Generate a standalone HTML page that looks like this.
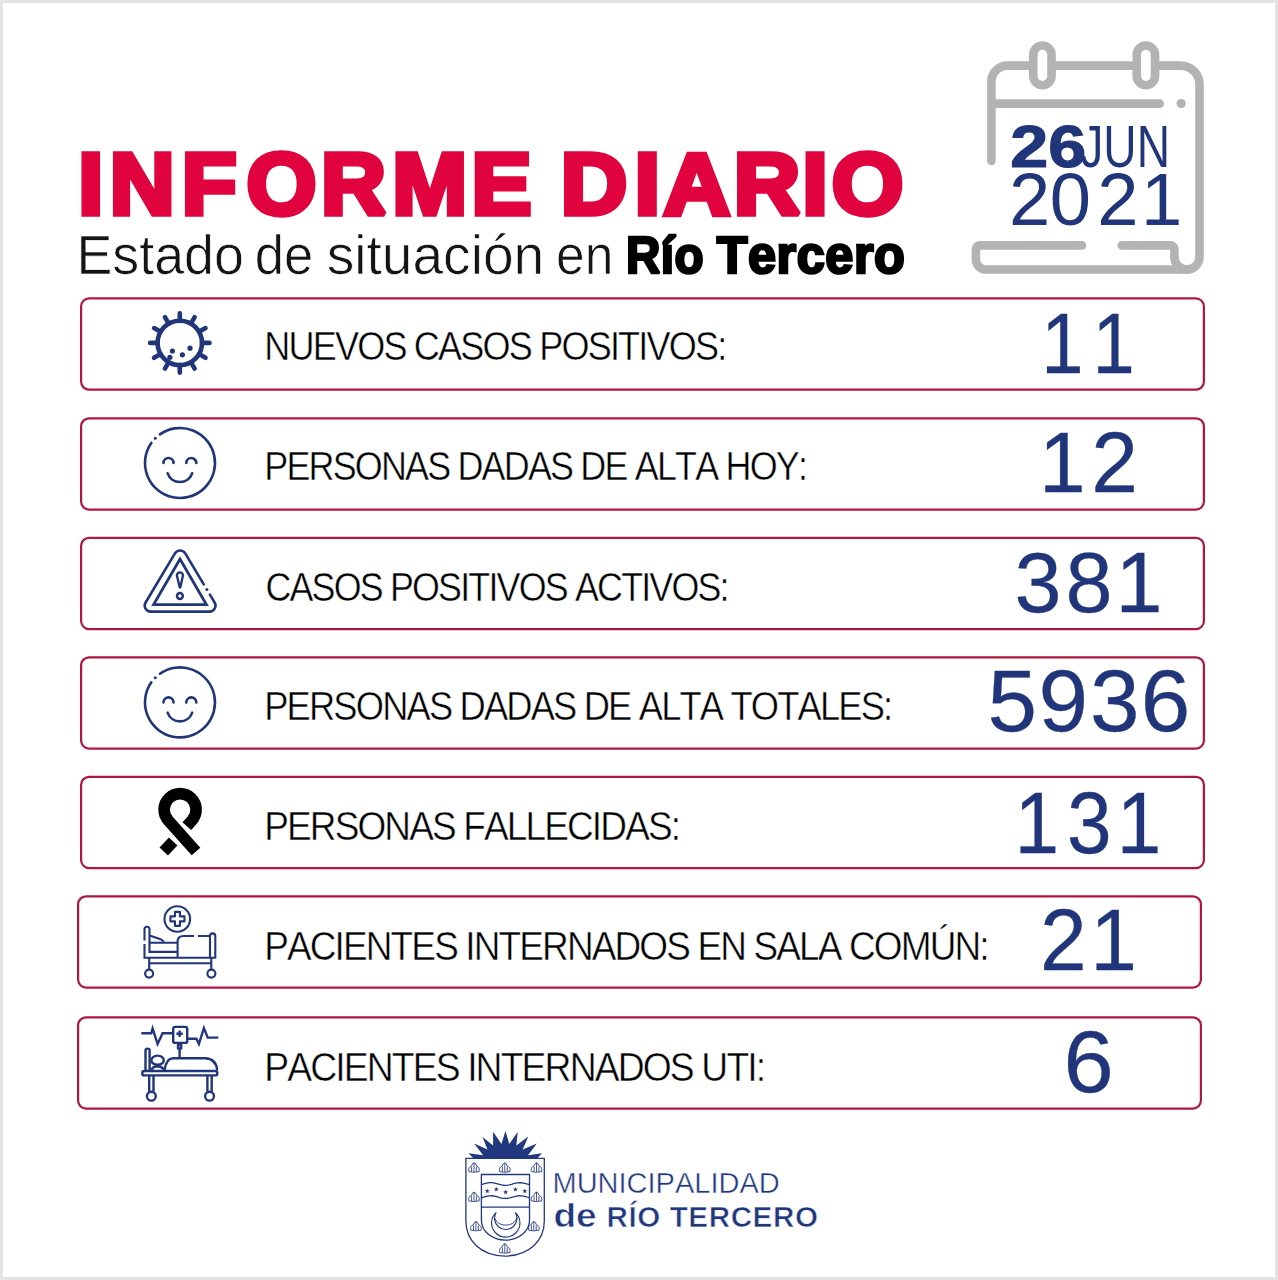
<!DOCTYPE html>
<html><head><meta charset="utf-8"><title>Informe diario</title>
<style>
html,body{margin:0;padding:0;background:#e4e4e4;}
body{width:1278px;height:1280px;overflow:hidden;}
svg{display:block;}
text{font-family:"Liberation Sans",sans-serif;font-kerning:none;font-variant-ligatures:none;}
</style></head><body>
<svg width="1278" height="1280" viewBox="0 0 1278 1280">
<rect x="0" y="0" width="1278" height="1280" fill="#e4e4e4"/>
<rect x="3" y="3" width="1272" height="1274" fill="#fff"/>
<text transform="translate(0 213.85) scale(1.0277 1)" x="76.20 106.70 176.97 239.83 312.44 381.62 458.70" y="0" font-size="87.50" fill="#e0033d" font-weight="bold" stroke="#e0033d" stroke-width="5.50" stroke-linejoin="miter" stroke-miterlimit="2">INFORME</text>
<text transform="translate(0 213.85) scale(1.0519 1)" x="533.07 603.27 630.81 697.45 762.56 790.78" y="0" font-size="87.50" fill="#e0033d" font-weight="bold" stroke="#e0033d" stroke-width="5.50" stroke-linejoin="miter" stroke-miterlimit="2">DIARIO</text>
<text stroke="#fff" stroke-width="0.7" transform="translate(76.49 274.00) scale(0.9688 1)" font-size="55.52" fill="#141414">Estado</text>
<text stroke="#fff" stroke-width="0.7" transform="translate(254.79 274.00) scale(0.9480 1)" font-size="55.52" fill="#141414">de</text>
<text stroke="#fff" stroke-width="0.7" transform="translate(326.67 274.00) scale(0.9930 1)" font-size="55.52" fill="#141414">situación</text>
<text stroke="#fff" stroke-width="0.7" transform="translate(556.11 274.00) scale(0.9266 1)" font-size="55.52" fill="#141414">en</text>
<text transform="translate(625.91 272.50) scale(0.9214 1)" font-size="51.75" fill="#000" font-weight="bold" letter-spacing="0.517" stroke="#000" stroke-width="2.60" stroke-linejoin="miter" stroke-miterlimit="2">Río</text>
<text transform="translate(716.70 272.50) scale(0.9755 1)" font-size="51.75" fill="#000" font-weight="bold" letter-spacing="0.517" stroke="#000" stroke-width="2.60" stroke-linejoin="miter" stroke-miterlimit="2">Tercero</text>
<g fill="none" stroke="#b3b3b3" stroke-width="8.6" stroke-linecap="round" stroke-linejoin="round"><path d="M991.4 161 V81.6 A16 16 0 0 1 1007.4 65.6 H1180.5 A19 19 0 0 1 1199.5 84.6 V257 A12.55 12.55 0 0 1 1186.95 269.55 H985.9 A10 10 0 0 1 975.9 259.55 V249.4 A4 4 0 0 1 979.9 245.4 H1082"/><path d="M1121.8 245.4 H1170.4 A4 4 0 0 1 1174.4 249.4 V257 A12.55 12.55 0 0 0 1186.95 269.55"/><path d="M995 103.6 H1159.7"/></g>
<circle cx="1181.2" cy="103.5" r="4.6" fill="#b3b3b3"/>
<rect x="1033.25" y="45.55" width="18.3" height="39.7" rx="9.15" fill="#fff" stroke="#b3b3b3" stroke-width="8.6"/>
<rect x="1136.75" y="45.55" width="18.3" height="39.7" rx="9.15" fill="#fff" stroke="#b3b3b3" stroke-width="8.6"/>
<text transform="translate(1010.33 166.50) scale(1.1654 1)" font-size="58.58" fill="#21367a" font-weight="bold" stroke="#21367a" stroke-width="1.20" stroke-linejoin="miter" stroke-miterlimit="2">26</text>
<text transform="translate(1080.28 166.60) scale(0.7874 1)" font-size="58.58" fill="#21367a">JUN</text>
<text transform="translate(0 224.90) scale(0.9946 1)" x="1014.45 1055.57 1103.33 1147.25" y="0" font-size="74.57" fill="#21367a">2021</text>
<rect x="81.10" y="298.40" width="1122.80" height="91.30" rx="8" fill="none" stroke="#ad1740" stroke-width="2.2"/>
<rect x="81.10" y="418.30" width="1122.80" height="91.30" rx="8" fill="none" stroke="#ad1740" stroke-width="2.2"/>
<rect x="81.10" y="537.80" width="1122.80" height="91.30" rx="8" fill="none" stroke="#ad1740" stroke-width="2.2"/>
<rect x="81.10" y="657.30" width="1122.80" height="91.30" rx="8" fill="none" stroke="#ad1740" stroke-width="2.2"/>
<rect x="81.10" y="776.80" width="1122.80" height="91.30" rx="8" fill="none" stroke="#ad1740" stroke-width="2.2"/>
<rect x="78.10" y="896.30" width="1122.80" height="91.30" rx="8" fill="none" stroke="#ad1740" stroke-width="2.2"/>
<rect x="78.10" y="1017.30" width="1122.80" height="91.30" rx="8" fill="none" stroke="#ad1740" stroke-width="2.2"/>
<text stroke="#fff" stroke-width="0.5" transform="translate(264.24 359.60) scale(0.8856 1)" font-size="40.70" fill="#000" letter-spacing="-2.035">NUEVOS CASOS POSITIVOS:</text>
<text stroke="#fff" stroke-width="0.5" transform="translate(264.26 480.30) scale(0.8821 1)" font-size="40.70" fill="#000" letter-spacing="-2.035">PERSONAS DADAS DE ALTA HOY:</text>
<text stroke="#fff" stroke-width="0.5" transform="translate(265.38 600.50) scale(0.8798 1)" font-size="40.70" fill="#000" letter-spacing="-2.035">CASOS POSITIVOS ACTIVOS:</text>
<text stroke="#fff" stroke-width="0.5" transform="translate(264.22 719.50) scale(0.8915 1)" font-size="40.70" fill="#000" letter-spacing="-2.035">PERSONAS DADAS DE ALTA TOTALES:</text>
<text stroke="#fff" stroke-width="0.5" transform="translate(264.17 839.70) scale(0.9085 1)" font-size="40.70" fill="#000" letter-spacing="-2.035">PERSONAS FALLECIDAS:</text>
<text stroke="#fff" stroke-width="0.5" transform="translate(264.17 960.10) scale(0.9079 1)" font-size="40.70" fill="#000" letter-spacing="-2.035">PACIENTES INTERNADOS EN SALA COMÚN:</text>
<text stroke="#fff" stroke-width="0.5" transform="translate(264.14 1080.50) scale(0.9163 1)" font-size="40.70" fill="#000" letter-spacing="-2.035">PACIENTES INTERNADOS UTI:</text>
<text transform="translate(0 372.65) scale(0.8898 1)" x="1170.19 1227.73" y="0" font-size="85.32" fill="#21367a" stroke="#21367a" stroke-width="0.30" stroke-linejoin="miter" stroke-miterlimit="2">11</text>
<text transform="translate(0 491.55) scale(0.9936 1)" x="1045.60 1098.29" y="0" font-size="84.45" fill="#21367a" stroke="#21367a" stroke-width="0.30" stroke-linejoin="miter" stroke-miterlimit="2">12</text>
<text transform="translate(0 612.15) scale(0.9801 1)" x="1035.14 1087.13 1138.19" y="0" font-size="86.19" fill="#21367a" stroke="#21367a" stroke-width="0.30" stroke-linejoin="miter" stroke-miterlimit="2">381</text>
<text transform="translate(0 731.45) scale(1.0337 1)" x="955.29 1004.75 1054.51 1103.50" y="0" font-size="86.19" fill="#21367a" stroke="#21367a" stroke-width="0.30" stroke-linejoin="miter" stroke-miterlimit="2">5936</text>
<text transform="translate(0 853.05) scale(0.9257 1)" x="1095.87 1152.62 1206.50" y="0" font-size="86.63" fill="#21367a" stroke="#21367a" stroke-width="0.30" stroke-linejoin="miter" stroke-miterlimit="2">131</text>
<text transform="translate(0 970.05) scale(0.9737 1)" x="1068.20 1119.61" y="0" font-size="86.19" fill="#21367a" stroke="#21367a" stroke-width="0.30" stroke-linejoin="miter" stroke-miterlimit="2">21</text>
<text transform="translate(0 1092.05) scale(1.0481 1)" x="1014.74" y="0" font-size="86.19" fill="#21367a" stroke="#21367a" stroke-width="0.30" stroke-linejoin="miter" stroke-miterlimit="2">6</text>
<text stroke="#fff" stroke-width="0.45" transform="translate(552.52 1192.90) scale(0.9549 1)" font-size="30.38" fill="#22387e">MUNICIPALIDAD</text>
<text stroke="#fff" stroke-width="0.6" transform="translate(553.38 1226.80) scale(1.1153 1)" font-size="33.26" fill="#22387e" font-weight="bold">de</text>
<text stroke="#fff" stroke-width="0.6" transform="translate(606.52 1226.80) scale(1.0334 1)" font-size="28.63" fill="#22387e" font-weight="bold" letter-spacing="0.573">RÍO TERCERO</text>
<g fill="none" stroke="#21367a" stroke-width="4.6" stroke-linecap="round"><circle cx="179.8" cy="342.9" r="22.2"/><path d="M179.8 320.7L179.8 313.2M190.9 323.67L194.65 317.18M199.03 331.8L205.52 328.05M202 342.9L209.5 342.9M199.03 354L205.52 357.75M190.9 362.13L194.65 368.62M179.8 365.1L179.8 372.6M168.7 362.13L164.95 368.62M160.57 354L154.08 357.75M157.6 342.9L150.1 342.9M160.57 331.8L154.08 328.05M168.7 323.67L164.95 317.18"/></g>
<circle cx="172.4" cy="351" r="2.6" fill="#21367a"/>
<circle cx="190" cy="348.2" r="2.6" fill="#21367a"/>
<circle cx="182.4" cy="354.8" r="2.6" fill="#21367a"/>
<circle cx="169.9" cy="357.3" r="2.6" fill="#21367a"/>
<g fill="none" stroke="#21367a" stroke-width="2.6" stroke-linecap="round"><path d="M159.92 434.33 A35 35 0 1 1 151.33 442.92"/><path d="M163.5 463 A5 5 0 0 1 173.5 463"/><path d="M186.3 463 A5 5 0 0 1 196.3 463"/><path d="M167.61 473.23 A13 13 0 0 0 192.19 473.23"/></g><circle cx="155.25" cy="438.25" r="1.5" fill="#21367a"/>
<g fill="none" stroke="#21367a" stroke-width="2.6" stroke-linecap="round"><path d="M159.92 673.73 A35 35 0 1 1 151.33 682.32"/><path d="M163.5 702.4 A5 5 0 0 1 173.5 702.4"/><path d="M186.3 702.4 A5 5 0 0 1 196.3 702.4"/><path d="M167.61 712.63 A13 13 0 0 0 192.19 712.63"/></g><circle cx="155.25" cy="677.65" r="1.5" fill="#21367a"/>
<g fill="none" stroke="#21367a" stroke-width="2.6" stroke-linecap="round" stroke-linejoin="round"><path d="M150.75 611.6H209.45A6 6 0 0 0 214.6 602.52L209.91 594.67M203.76 584.37L185.25 553.37A6 6 0 0 0 174.95 553.37L145.6 602.52A6 6 0 0 0 150.75 611.6"/><path d="M153.6 604.6H206.4L180 559Z" stroke-linejoin="miter" stroke-width="2.8"/><path d="M176.9 575.4A3 3 0 0 1 182.9 575.4L180.4 587Q180 588 179.6 587Z" stroke-width="2.4"/><circle cx="179.9" cy="596" r="2.9" stroke-width="2.5"/></g>
<circle cx="206.86" cy="589.56" r="1.5" fill="#21367a"/>
<g fill="none" stroke="#000" stroke-width="11.6" stroke-linejoin="round"><path d="M196 851.5L168.2 820.3A16 16 0 1 1 192 820.3L186.8 826.1"/><path d="M163.75 851.5L173.15 841.5"/></g>
<g fill="none" stroke="#21367a" stroke-width="2.1"><circle cx="177.3" cy="919" r="12.8"/><path d="M174.95 911.85L179.95 911.85L179.95 916.35L184.45 916.35L184.45 921.35L179.95 921.35L179.95 925.85L174.95 925.85L174.95 921.35L170.45 921.35L170.45 916.35L174.95 916.35Z" stroke-linejoin="round"/><path d="M144.5 940.5V929.2A2.5 2.5 0 0 1 149.5 929.2V951.9H177.6"/><path d="M144.5 944V957.7H215.3V936.05A2.65 2.65 0 0 0 210 936.05V957.7"/><path d="M149.5 942.7H177.6M149.2 963.3H211.3M149.2 957.7V969.6M211.3 957.7V969.6"/><circle cx="149.1" cy="973.6" r="4"/><circle cx="211.4" cy="973.6" r="4"/><path d="M149.5 935.6L161.3 939.6Q163.5 940.6 163.8 942.7"/><path d="M177.6 957.7V941.6Q177.6 936 183.6 936H194.2M198 936H210"/></g>
<g fill="none" stroke="#21367a" stroke-width="2.4" stroke-linejoin="round"><path d="M141.3 1033.2H151.3L152.6 1028.4L157.6 1044L162.6 1033.2H173.2" stroke-linejoin="miter"/><path d="M187.1 1038.8H196.4L198.9 1044L203.9 1028L207.7 1037.6H218.3" stroke-linejoin="miter"/><rect x="173.2" y="1026.9" width="14" height="16" rx="2"/><path d="M179.6 1030.6V1037M176.4 1033.8H182.8"/><rect x="178" y="1044.8" width="3.2" height="3.7"/><path d="M179.6 1048.5V1057.6"/><path d="M145.5 1071V1050.7A2.05 2.05 0 0 1 149.6 1050.7V1071"/><ellipse cx="157.6" cy="1060.2" rx="6.2" ry="4.6"/><path d="M151.5 1070Q152.5 1066.5 157.5 1066.2Q162.5 1066.5 164 1070"/><path d="M164.6 1070Q166 1058.6 173 1058.2H205Q216.2 1058.8 217.2 1070"/><rect x="142.3" y="1071" width="75" height="4.4" rx="2"/><path d="M149.2 1075.4V1091.8M153.5 1075.4V1091.8M207.4 1075.4V1091.8M211.7 1075.4V1091.8"/><circle cx="151.35" cy="1096.2" r="4.4"/><circle cx="209.55" cy="1096.2" r="4.4"/></g>
<path d="M473.7 1158.4L468.5 1153.2L483.2 1155.3L474.1 1143.5L487.5 1149.6L482.5 1137.1L493.1 1145.4L493.1 1131.7L501.5 1144L505.4 1131L509.3 1144L517.7 1132L516.3 1145.4L528.3 1136.4L522.7 1149.6L536.8 1143.5L528 1155.3L542 1153.2L537.1 1158.4Z" fill="#22387e"/>
<g fill="none" stroke="#22387e" stroke-width="1.3"><path d="M465.9 1158.3H544.3V1221C544.3 1240 530 1255.5 505 1256.1C480 1255.5 465.9 1240 465.9 1221Z"/><path d="M481.4 1174.5H529.5V1220.2A24.05 20 0 0 1 481.4 1220.2Z"/><path d="M481.4 1207.1H529.5"/><path d="M481.6 1184.54L483.6 1183.97L485.59 1183.41L487.59 1182.95L489.58 1182.69L491.58 1182.67L493.58 1182.9L495.57 1183.32L497.57 1183.87L499.56 1184.45L501.56 1184.94L503.55 1185.26L505.55 1185.35L507.55 1185.19L509.54 1184.81L511.54 1184.28L513.53 1183.7L515.53 1183.18L517.52 1182.8L519.52 1182.65L521.52 1182.75L523.51 1183.07L525.51 1183.57L527.5 1184.15L529.5 1184.7"/><path d="M481.6 1197.64L483.6 1197.07L485.59 1196.51L487.59 1196.05L489.58 1195.79L491.58 1195.77L493.58 1196L495.57 1196.42L497.57 1196.97L499.56 1197.55L501.56 1198.04L503.55 1198.36L505.55 1198.45L507.55 1198.29L509.54 1197.91L511.54 1197.38L513.53 1196.8L515.53 1196.28L517.52 1195.9L519.52 1195.75L521.52 1195.85L523.51 1196.17L525.51 1196.67L527.5 1197.25L529.5 1197.8"/></g>
<path d="M496.3 1212.3A14.2 14.2 0 1 0 515.2 1212.3A11.2 11.2 0 1 1 496.3 1212.3Z" fill="none" stroke="#22387e" stroke-width="1.1"/>
<path d="M494.2 1217.5A12.6 12.6 0 0 0 517.4 1217.5" fill="none" stroke="#22387e" stroke-width="0.9"/>
<g fill="#22387e"><path d="M487.3 1188.5L487.94 1190.22L489.77 1190.3L488.34 1191.44L488.83 1193.2L487.3 1192.19L485.77 1193.2L486.26 1191.44L484.83 1190.3L486.66 1190.22Z"/><path d="M496.3 1186.7L496.94 1188.42L498.77 1188.5L497.34 1189.64L497.83 1191.4L496.3 1190.39L494.77 1191.4L495.26 1189.64L493.83 1188.5L495.66 1188.42Z"/><path d="M505.6 1189.6L506.24 1191.32L508.07 1191.4L506.64 1192.54L507.13 1194.3L505.6 1193.29L504.07 1194.3L504.56 1192.54L503.13 1191.4L504.96 1191.32Z"/><path d="M515.4 1186.9L516.04 1188.62L517.87 1188.7L516.44 1189.84L516.93 1191.6L515.4 1190.59L513.87 1191.6L514.36 1189.84L512.93 1188.7L514.76 1188.62Z"/><path d="M524.8 1188.5L525.44 1190.22L527.27 1190.3L525.84 1191.44L526.33 1193.2L524.8 1192.19L523.27 1193.2L523.76 1191.44L522.33 1190.3L524.16 1190.22Z"/></g>
<g fill="none" stroke="#22387e" stroke-width="0.85"><path d="M468.8 1171.6Q468 1166.9 471.4 1166.2Q472.4 1162.8 474 1162.8Q475.6 1162.8 476.6 1166.2Q480 1166.9 479.2 1171.6Q474 1173 468.8 1171.6Z"/><path d="M474 1162.8V1172M471.6 1166.9V1171.8M476.4 1166.9V1171.8"/><path d="M499.6 1171.6Q498.8 1166.9 502.2 1166.2Q503.2 1162.8 504.8 1162.8Q506.4 1162.8 507.4 1166.2Q510.8 1166.9 510 1171.6Q504.8 1173 499.6 1171.6Z"/><path d="M504.8 1162.8V1172M502.4 1166.9V1171.8M507.2 1166.9V1171.8"/><path d="M531.3 1171.6Q530.5 1166.9 533.9 1166.2Q534.9 1162.8 536.5 1162.8Q538.1 1162.8 539.1 1166.2Q542.5 1166.9 541.7 1171.6Q536.5 1173 531.3 1171.6Z"/><path d="M536.5 1162.8V1172M534.1 1166.9V1171.8M538.9 1166.9V1171.8"/><path d="M468.8 1200.9Q468 1196.2 471.4 1195.5Q472.4 1192.1 474 1192.1Q475.6 1192.1 476.6 1195.5Q480 1196.2 479.2 1200.9Q474 1202.3 468.8 1200.9Z"/><path d="M474 1192.1V1201.3M471.6 1196.2V1201.1M476.4 1196.2V1201.1"/><path d="M531.3 1200.9Q530.5 1196.2 533.9 1195.5Q534.9 1192.1 536.5 1192.1Q538.1 1192.1 539.1 1195.5Q542.5 1196.2 541.7 1200.9Q536.5 1202.3 531.3 1200.9Z"/><path d="M536.5 1192.1V1201.3M534.1 1196.2V1201.1M538.9 1196.2V1201.1"/><path d="M470.7 1230.2Q469.9 1225.5 473.3 1224.8Q474.3 1221.4 475.9 1221.4Q477.5 1221.4 478.5 1224.8Q481.9 1225.5 481.1 1230.2Q475.9 1231.6 470.7 1230.2Z"/><path d="M475.9 1221.4V1230.6M473.5 1225.5V1230.4M478.3 1225.5V1230.4"/><path d="M528.6 1230.2Q527.8 1225.5 531.2 1224.8Q532.2 1221.4 533.8 1221.4Q535.4 1221.4 536.4 1224.8Q539.8 1225.5 539 1230.2Q533.8 1231.6 528.6 1230.2Z"/><path d="M533.8 1221.4V1230.6M531.4 1225.5V1230.4M536.2 1225.5V1230.4"/><path d="M499.6 1252.5Q498.8 1247.8 502.2 1247.1Q503.2 1243.7 504.8 1243.7Q506.4 1243.7 507.4 1247.1Q510.8 1247.8 510 1252.5Q504.8 1253.9 499.6 1252.5Z"/><path d="M504.8 1243.7V1252.9M502.4 1247.8V1252.7M507.2 1247.8V1252.7"/></g>
</svg>
</body></html>
